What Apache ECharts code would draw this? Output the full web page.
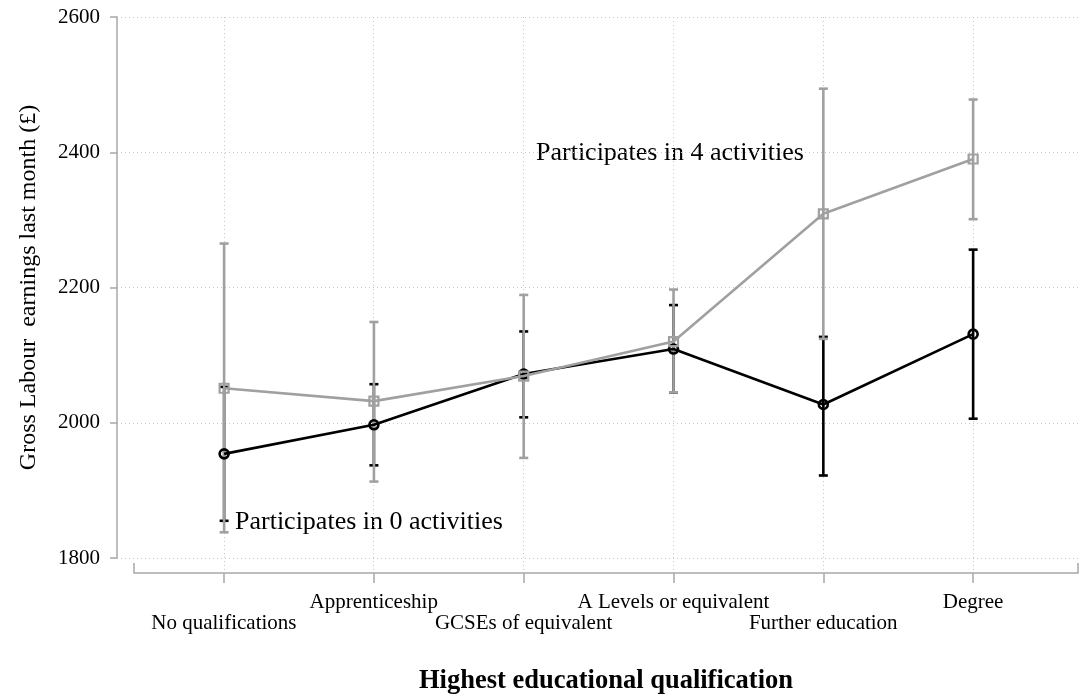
<!DOCTYPE html>
<html><head><meta charset="utf-8">
<script src="https://cdn.jsdelivr.net/npm/echarts@6/dist/echarts.min.js"></script>
<style>html,body{margin:0;padding:0;background:#fff}#c{width:1083px;height:700px}</style>
</head><body><div id="c"></div>
<script>
var categories = ['No qualifications','Apprenticeship','GCSEs of equivalent','A Levels or equivalent','Further education','Degree'];
var yTicks = [1800, 2000, 2200, 2400, 2600];
var mean0 = [1954, 1997, 2072, 2109, 2027, 2131];
var lo0   = [1855, 1937, 2008, 2045, 1922, 2006];
var hi0   = [2053, 2057, 2135, 2174, 2127, 2256];
var mean4 = [2051, 2032, 2069, 2120, 2309, 2390];
var lo4   = [1838, 1913, 1948, 2045, 2124, 2301];
var hi4   = [2265, 2149, 2189, 2197, 2494, 2478];
var label0 = 'Participates in 0 activities';
var label4 = 'Participates in 4 activities';

var SERIF = "'Liberation Serif','DejaVu Serif',serif";
var GRAY = '#a0a0a0';
var AXIS = '#a8a8a8';
var pos = categories.map(function(c, i){ return i + 1; });

function lineData(m){ return m.map(function(v,i){ return [pos[i], v]; }); }
function barData(lo, hi){ return lo.map(function(v,i){ return [pos[i], v, hi[i]]; }); }
function errRender(color){
  return function(params, api){
    var x = api.value(0);
    var p1 = api.coord([x, api.value(1)]);
    var p2 = api.coord([x, api.value(2)]);
    var w = 4.5;
    var st = {stroke: color, lineWidth: 2.6, fill: null};
    return {type:'group', children:[
      {type:'line', shape:{x1:p1[0],y1:p1[1],x2:p2[0],y2:p2[1]}, style:st},
      {type:'line', shape:{x1:p1[0]-w,y1:p1[1],x2:p1[0]+w,y2:p1[1]}, style:st},
      {type:'line', shape:{x1:p2[0]-w,y1:p2[1],x2:p2[0]+w,y2:p2[1]}, style:st}
    ]};
  };
}

var chart = echarts.init(document.getElementById('c'), null, {renderer:'canvas'});
var dotted = {color:'#c8c8c8', width:1, type:[1,3]};
chart.setOption({
  backgroundColor:'#fff',
  animation:false,
  textStyle:{fontFamily:SERIF},
  grid:[
    {left:117, right:5, top:17, bottom:142},
    {left:134, right:5, top:17, bottom:124}
  ],
  xAxis:[
    {gridIndex:0, type:'value', min:0.285, max:6.7, show:false, splitLine:{show:false}},
    {gridIndex:1, type:'value', min:0.4, max:6.7,
      axisLine:{show:true, onZero:false, lineStyle:{color:AXIS, width:1.5}},
      axisTick:{show:true, length:10, customValues:pos, lineStyle:{color:AXIS, width:1.5}},
      axisLabel:{customValues:pos, margin:19, fontFamily:SERIF, fontSize:21, color:'#000', lineHeight:21,
        verticalAlign:'top',
        formatter:function(v){ var i = Math.round(v)-1; var t = categories[i]; return (i % 2 === 0) ? '\n' + t : t; }},
      splitLine:{show:true, lineStyle:dotted},
      name:'Highest educational qualification', nameLocation:'middle', nameGap:95,
      nameTextStyle:{fontFamily:SERIF, fontWeight:'bold', fontSize:26.5, color:'#000'}
    },
    {gridIndex:1, type:'value', min:0.4, max:6.7,
      axisLine:{show:false}, axisLabel:{show:false}, splitLine:{show:false},
      axisTick:{show:true, length:10, customValues:[0.4, 6.7], lineStyle:{color:AXIS, width:1.5}}
    }
  ],
  yAxis:[
    {gridIndex:0, type:'value', min:1800, max:2600, interval:200,
      axisLine:{show:true, lineStyle:{color:AXIS, width:1.5}},
      axisTick:{show:true, length:7, lineStyle:{color:AXIS, width:1.5}},
      axisLabel:{margin:17, fontFamily:SERIF, fontSize:21, color:'#000',
        formatter:function(v){ return yTicks.indexOf(v) >= 0 ? String(v) : ''; }},
      splitLine:{show:true, lineStyle:dotted},
      name:'Gross Labour  earnings last month (£)', nameLocation:'middle', nameGap:76,
      nameTextStyle:{fontFamily:SERIF, fontSize:24, color:'#000'}
    },
    {gridIndex:1, type:'value', min:0, max:1, show:false, splitLine:{show:false}}
  ],
  series:[
    {type:'custom', xAxisIndex:0, yAxisIndex:0, renderItem:errRender('#000'), data:barData(lo0, hi0), z:2, silent:true},
    {type:'custom', xAxisIndex:0, yAxisIndex:0, renderItem:errRender(GRAY), data:barData(lo4, hi4), z:3, silent:true},
    {type:'line', xAxisIndex:0, yAxisIndex:0, data:lineData(mean0), z:4,
      lineStyle:{color:'#000', width:2.6}, symbol:'circle', symbolSize:9, showAllSymbol:true,
      itemStyle:{color:'rgba(0,0,0,0)', borderColor:'#000', borderWidth:2.6}},
    {type:'line', xAxisIndex:0, yAxisIndex:0, data:lineData(mean4), z:5,
      lineStyle:{color:GRAY, width:2.6}, symbol:'rect', symbolSize:9, showAllSymbol:true,
      itemStyle:{color:'rgba(0,0,0,0)', borderColor:GRAY, borderWidth:2.2}}
  ],
  graphic:[
    {type:'text', left:536, top:140, style:{text:label4, font:"26px 'Liberation Serif', serif", fill:'#000'}},
    {type:'text', left:235, top:509, style:{text:label0, font:"26px 'Liberation Serif', serif", fill:'#000'}}
  ]
});
</script>
</body></html>
